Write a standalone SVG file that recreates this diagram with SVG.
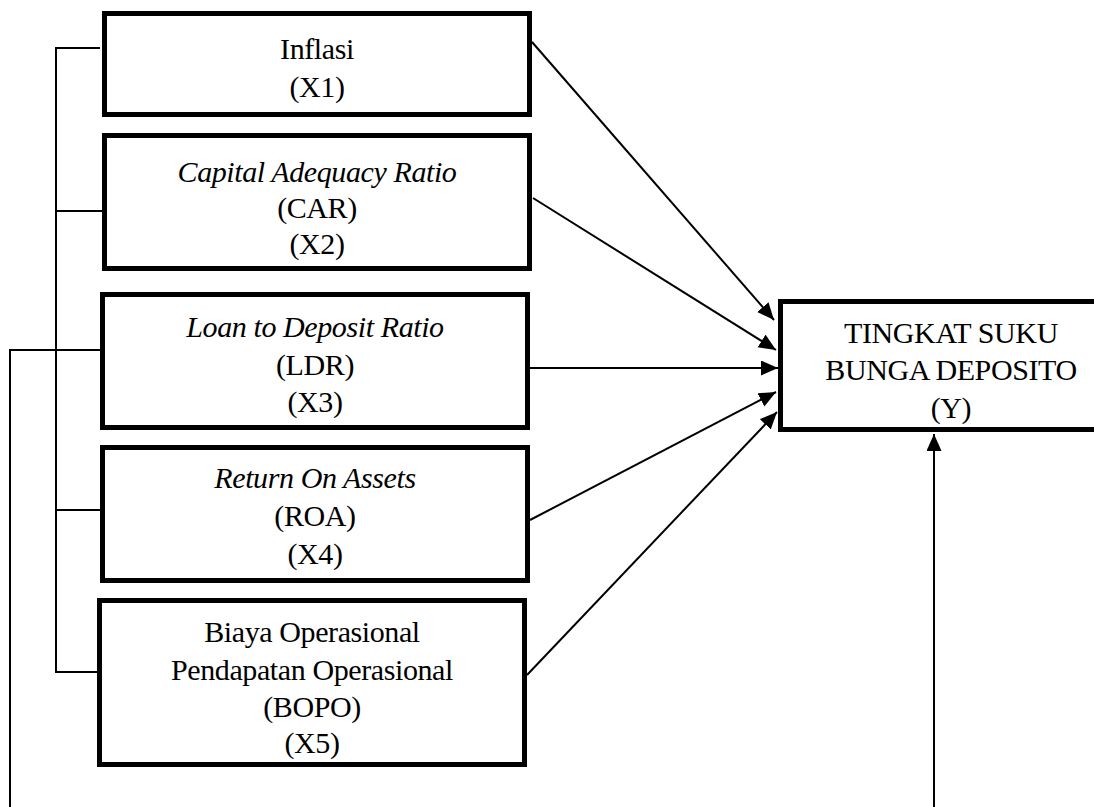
<svg xmlns="http://www.w3.org/2000/svg" width="1094" height="807" viewBox="0 0 1094 807">
<style>
.box{fill:#fff;stroke:#000;stroke-width:5}
.ln{fill:none;stroke:#000;stroke-width:2}
.t{font-family:"Liberation Serif","Times New Roman",serif;font-size:30px;fill:#000;text-anchor:middle;letter-spacing:-0.4px}
.i{font-style:italic}
</style>
<defs>
<marker id="ah" markerUnits="userSpaceOnUse" markerWidth="18" markerHeight="16" refX="17" refY="7.5" orient="auto">
<path d="M0,0 L17,7.5 L0,15 Z" fill="#000"/>
</marker>
</defs>
<rect width="1094" height="807" fill="#fff"/>
<g id="connectors">
<polyline class="ln" points="100,48 56,48 56,672 97,672"/>
<line class="ln" x1="56" y1="211" x2="102" y2="211"/>
<line class="ln" x1="56" y1="510" x2="100" y2="510"/>
<polyline class="ln" points="100,350 10,350 10,810"/>
<line class="ln" x1="934" y1="810" x2="934" y2="434" marker-end="url(#ah)"/>
<line class="ln" x1="532" y1="42" x2="774" y2="320" marker-end="url(#ah)"/>
<line class="ln" x1="533" y1="198" x2="776" y2="350" marker-end="url(#ah)"/>
<line class="ln" x1="530" y1="368" x2="778" y2="368" marker-end="url(#ah)"/>
<line class="ln" x1="530" y1="520" x2="776" y2="392" marker-end="url(#ah)"/>
<line class="ln" x1="527" y1="675" x2="777" y2="412" marker-end="url(#ah)"/>
</g>
<g id="x1">
<rect class="box" x="104.5" y="13.5" width="425" height="101"/>
<text class="t" x="317" y="59">Inflasi</text>
<text class="t" x="317" y="97">(X1)</text>
</g>
<g id="x2">
<rect class="box" x="104.5" y="135.5" width="425" height="133"/>
<text class="t i" x="317" y="182">Capital Adequacy Ratio</text>
<text class="t" x="317" y="218">(CAR)</text>
<text class="t" x="317" y="254">(X2)</text>
</g>
<g id="x3">
<rect class="box" x="102.5" y="294.5" width="425" height="133"/>
<text class="t i" x="315" y="337">Loan to Deposit Ratio</text>
<text class="t" x="315" y="375">(LDR)</text>
<text class="t" x="315" y="412">(X3)</text>
</g>
<g id="x4">
<rect class="box" x="102.5" y="447.5" width="425" height="133"/>
<text class="t i" x="315" y="488">Return On Assets</text>
<text class="t" x="315" y="526">(ROA)</text>
<text class="t" x="315" y="564">(X4)</text>
</g>
<g id="x5">
<rect class="box" x="99.5" y="600.5" width="425" height="164"/>
<text class="t" x="312" y="642">Biaya Operasional</text>
<text class="t" x="312" y="680">Pendapatan Operasional</text>
<text class="t" x="312" y="717">(BOPO)</text>
<text class="t" x="312" y="753">(X5)</text>
</g>
<g id="y">
<rect class="box" x="780.5" y="301.5" width="330" height="128"/>
<text class="t" x="951" y="343">TINGKAT SUKU</text>
<text class="t" x="951" y="380">BUNGA DEPOSITO</text>
<text class="t" x="951" y="418">(Y)</text>
</g>
</svg>
